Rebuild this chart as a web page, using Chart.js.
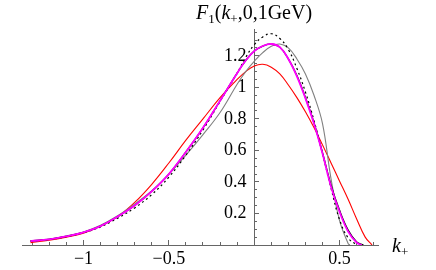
<!DOCTYPE html>
<html>
<head>
<meta charset="utf-8">
<script src="https://cdn.jsdelivr.net/npm/chart.js@4"></script>
<style>
  html, body { margin: 0; padding: 0; background: #fff; }
  #wrap { position: relative; width: 436px; height: 270px; }
  .lbl { position: absolute; font-family: "Liberation Serif", "DejaVu Serif", serif; font-size: 20px; color: #000; white-space: nowrap; line-height: 1; }
  .lbl sub { font-size: 13px; vertical-align: -4px; line-height: 0; }
</style>
</head>
<body>
<div id="wrap">
  <canvas id="c" width="436" height="270"></canvas>
  <div class="lbl" style="left:196px; top:2px;"><i>F</i><sub>1</sub>(<i>k</i><sub>+</sub>,0,1GeV)</div>
  <div class="lbl" style="left:392px; top:235px;"><i>k</i><sub>+</sub></div>
</div>
<script>
// k+ values and F1 values, one pair of arrays per curve
const kMain = [-1.31, -1.2, -1.1, -1.0, -0.9, -0.8, -0.7, -0.6, -0.5, -0.4, -0.3, -0.2, -0.1, -0.05, 0, 0.05, 0.1, 0.15, 0.2, 0.25, 0.3, 0.35, 0.4, 0.45, 0.5, 0.55];

const kRed = kMain.concat([0.6, 0.65, 0.69]);
const fRed = [0.015, 0.03, 0.05, 0.075, 0.12, 0.18, 0.27, 0.385, 0.52, 0.665, 0.80, 0.935, 1.05, 1.10, 1.135, 1.146, 1.128, 1.085, 1.015, 0.935, 0.845, 0.745, 0.635, 0.52, 0.405, 0.29, 0.165, 0.05, 0];

const kMagenta = kMain.concat([0.6, 0.63]);
const fMagenta = [0.025, 0.036, 0.055, 0.08, 0.12, 0.18, 0.25, 0.34, 0.45, 0.59, 0.743, 0.915, 1.09, 1.17, 1.23, 1.262, 1.275, 1.255, 1.18, 1.07, 0.93, 0.77, 0.58, 0.37, 0.21, 0.085, 0.015, 0];

const kBlack = kMain.concat([0.6, 0.64]);
const fBlack = [0.025, 0.036, 0.055, 0.08, 0.12, 0.18, 0.25, 0.34, 0.45, 0.59, 0.743, 0.915, 1.09, 1.17, 1.23, 1.262, 1.275, 1.255, 1.18, 1.075, 0.935, 0.775, 0.585, 0.38, 0.22, 0.095, 0.02, 0];

const kDotted = kMain.concat([0.6]);
const fDotted = [0.025, 0.035, 0.053, 0.078, 0.115, 0.17, 0.235, 0.32, 0.43, 0.57, 0.73, 0.91, 1.09, 1.19, 1.27, 1.32, 1.34, 1.31, 1.24, 1.12, 0.97, 0.79, 0.58, 0.36, 0.16, 0.045, 0];

const kGray = kMain.concat([0.56]);
const fGray = [0.027, 0.038, 0.057, 0.083, 0.125, 0.185, 0.26, 0.345, 0.45, 0.57, 0.70, 0.84, 1.02, 1.10, 1.165, 1.22, 1.26, 1.275, 1.25, 1.18, 1.085, 0.95, 0.77, 0.42, 0.155, 0.01, 0];

// tick positions and labels
const xMinorTicks = [-1.3, -1.2, -1.1, -1, -0.9, -0.8, -0.7, -0.6, -0.5, -0.4, -0.3, -0.2, -0.1, 0, 0.1, 0.2, 0.3, 0.4, 0.5, 0.6, 0.7];
const xMajorTicks = [-1, -0.5, 0, 0.5];
const xMajorLabels = ["\u22121", "\u22120.5", "", "0.5"];
const yMinorTicks = [0.05, 0.1, 0.15, 0.2, 0.25, 0.3, 0.35, 0.4, 0.45, 0.5, 0.55, 0.6, 0.65, 0.7, 0.75, 0.8, 0.85, 0.9, 0.95, 1, 1.05, 1.1, 1.15, 1.2, 1.25, 1.3, 1.35];
const yMajorTicks = [0.2, 0.4, 0.6, 0.8, 1, 1.2];
const yMajorLabels = ["0.2", "0.4", "0.6", "0.8", "1", "1.2"];

function pts(ks, fs) {
  return ks.map((k, i) => ({ x: k, y: fs[i] }));
}

function curve(ks, fs, color, width, dash) {
  return {
    data: pts(ks, fs),
    borderColor: color,
    borderWidth: width,
    borderDash: dash || [],
    pointRadius: 0,
    fill: false,
    tension: 0.4,
  };
}

function labelFor(values, labels) {
  return (v) => labels[values.findIndex((t) => Math.abs(t - v) < 1e-6)] || "";
}

const serif = { family: "Liberation Serif", size: 18 };
const axisGray = "#666";
const X_MIN = -1.36, X_MAX = 0.725, Y_MIN = 0, Y_MAX = 1.37;

new Chart(document.getElementById("c"), {
  type: "line",
  data: {
    datasets: [
      curve(kMagenta, fMagenta, "#ff00ff", 1.8),
      curve(kBlack, fBlack, "#000000", 1.3),
      curve(kDotted, fDotted, "#000000", 1.2, [2, 3]),
      curve(kGray, fGray, "#808080", 1.1),
      curve(kRed, fRed, "#ff0000", 1.1),
    ],
  },
  options: {
    responsive: false,
    animation: false,
    events: [],
    layout: { padding: { left: 22, right: 58, top: 29, bottom: 0 } },
    plugins: { legend: { display: false }, tooltip: { enabled: false } },
    scales: {
      // x axis line with small inward ticks
      x: {
        type: "linear",
        min: X_MIN,
        max: X_MAX,
        afterBuildTicks: (s) => { s.ticks = xMinorTicks.map((v) => ({ value: v })); },
        afterFit: (s) => { s.height = 25; },
        ticks: { autoSkip: false, maxRotation: 0, callback: () => "" },
        grid: { drawOnChartArea: false, drawTicks: true, tickLength: -3, color: axisGray },
        border: { display: true, color: axisGray },
      },
      // longer ticks and the labels at the major values
      xMajor: {
        type: "linear",
        position: { y: 0 },
        min: X_MIN,
        max: X_MAX,
        afterBuildTicks: (s) => { s.ticks = xMajorTicks.map((v) => ({ value: v })); },
        ticks: {
          autoSkip: false,
          maxRotation: 0,
          padding: 8,
          color: "#000",
          font: serif,
          callback: labelFor(xMajorTicks, xMajorLabels),
        },
        grid: { drawOnChartArea: false, drawTicks: true, tickLength: -5, color: axisGray },
        border: { display: false },
      },
      // the drawn y axis at k+ = 0
      y: {
        type: "linear",
        position: { x: 0 },
        min: Y_MIN,
        max: Y_MAX,
        afterBuildTicks: (s) => { s.ticks = yMinorTicks.map((v) => ({ value: v })); },
        ticks: { autoSkip: false, callback: () => "" },
        grid: { drawOnChartArea: false, drawTicks: true, tickLength: -3, color: axisGray },
        border: { display: true, color: axisGray },
      },
      yMajor: {
        type: "linear",
        position: { x: 0 },
        min: Y_MIN,
        max: Y_MAX,
        afterBuildTicks: (s) => { s.ticks = yMajorTicks.map((v) => ({ value: v })); },
        ticks: { autoSkip: false, callback: () => "" },
        grid: { drawOnChartArea: false, drawTicks: true, tickLength: -5, color: axisGray },
        border: { display: false },
      },
      // labels only, set just left of the axis line
      yLabels: {
        type: "linear",
        position: { x: -0.045 },
        min: Y_MIN,
        max: Y_MAX,
        afterBuildTicks: (s) => { s.ticks = yMajorTicks.map((v) => ({ value: v })); },
        ticks: {
          autoSkip: false,
          color: "#000",
          font: serif,
          callback: labelFor(yMajorTicks, yMajorLabels),
        },
        grid: { display: false, drawTicks: false },
        border: { display: false },
      },
    },
  },
});
</script>
</body>
</html>
